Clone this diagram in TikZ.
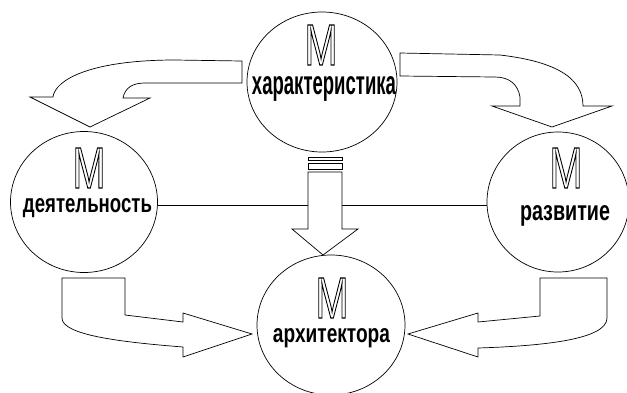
\documentclass[tikz,border=0pt]{standalone}
\usepackage{fontspec}
\setmainfont{Liberation Sans}
\usepackage{graphicx}
\usetikzlibrary{shapes.geometric}
\tikzset{
 circ/.style={ellipse, draw, fill=white, line width=0.7pt, inner sep=0pt},
 barrow/.style={draw, fill=white, line width=0.7pt, line join=miter},
 conn/.style={draw, line width=0.7pt},
 bigm/.style={inner sep=0pt},
 word/.style={inner sep=0pt, anchor=base, font=\bfseries},
}
\newcommand\outM{\resizebox{33pt}{40pt}{\fontsize{56}{56}\selectfont\special{pdf:literal direct 1 Tr 1.2 w}M\special{pdf:literal direct 0 Tr}}}
\begin{document}
\begin{tikzpicture}[x=1pt,y=-1pt]
\useasboundingbox (0,0) rectangle (627,392);
\fill[white] (0,0) rectangle (627,392);
% circles
\node[circ, minimum width=150pt, minimum height=140pt] (har) at (322,82) {};
\node[circ, minimum width=147pt, minimum height=141pt] (dey) at (84,202) {};
\node[circ, minimum width=142pt, minimum height=140pt] (raz) at (558,202) {};
\node[circ, minimum width=148pt, minimum height=140pt] (arh) at (331,325) {};
% connecting line
\draw[conn] ([yshift=-3pt]dey.east) -- ([yshift=-3pt]raz.west);
% down arrow with bars
\draw[barrow] (308,157) rectangle (342,160);
\draw[barrow] (308,163) rectangle (342,169);
\draw[barrow] (308,172) -- (308,229) -- (292,229) -- (323,255) -- (358,229) -- (342,229) -- (342,172) -- cycle;
% top-left curved arrow
\draw[barrow] (242,61) -- (175,60) .. controls (90,60) and (55,80) .. (53,97) -- (30,97) -- (90,127) -- (150,98) -- (123,98) .. controls (125,88) and (132,83) .. (145,83) -- (242,83) -- cycle;
% top-right curved arrow
\draw[barrow] (400,53) -- (500,55) .. controls (560,62) and (583,80) .. (583,106) -- (612,106) -- (552,127) -- (492,106) -- (520,106) -- (520,97) .. controls (518,85) and (510,77) .. (495,77) -- (400,76) -- cycle;
% bottom-left arrow
\draw[barrow] (62,278) -- (125,278) -- (125,315) -- (183,322) -- (183,313) -- (252,334) -- (183,357) -- (183,347) .. controls (120,342) and (62,335) .. (62,318) -- cycle;
% bottom-right arrow
\draw[barrow] (540,278) -- (607,278) -- (607,318) .. controls (607,340) and (540,346) .. (478,348) -- (478,357) -- (408,334) -- (478,313) -- (478,322) -- (540,316) -- cycle;
% texts
\node[bigm] (m1) at (321,45) {\outM};
\node[word] (t1) at (324,94) {\resizebox{144pt}{18pt}{характеристика}};
\node[bigm] (m2) at (89,168) {\outM};
\node[word] (t2) at (87.5,212) {\resizebox{129pt}{14pt}{деятельность}};
\node[bigm] (m3) at (566,168) {\outM};
\node[word] (t3) at (565,220) {\resizebox{90pt}{15pt}{развитие}};
\node[bigm] (m4) at (332,298) {\outM};
\node[word] (t4) at (331.5,342) {\resizebox{117pt}{14pt}{архитектора}};
\end{tikzpicture}
\end{document}
